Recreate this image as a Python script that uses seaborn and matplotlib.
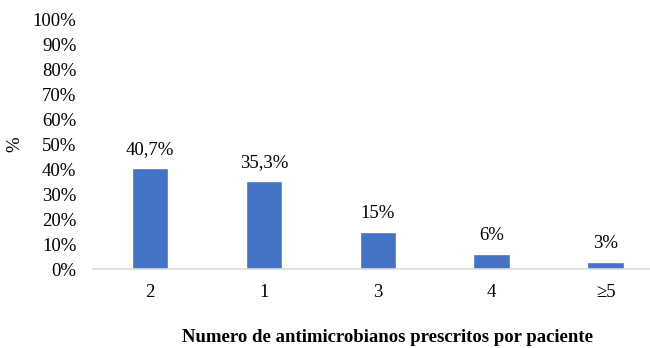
import matplotlib
matplotlib.use("Agg")
import matplotlib.pyplot as plt
import seaborn as sns
import pandas as pd

categorias = ["2", "1", "3", "4", "≥5"]
porcentajes = [40.7, 35.3, 15, 6, 3]
etiquetas = ["40,7%", "35,3%", "15%", "6%", "3%"]
ticks_y = list(range(0, 101, 10))

sns.set_theme(style="white")
plt.rcParams["font.family"] = ["Liberation Serif", "DejaVu Serif"]

df = pd.DataFrame({"categoria": categorias, "porcentaje": porcentajes})

fig = plt.figure(figsize=(6.5, 3.48), dpi=100)
W, H = 650, 348
ax = fig.add_axes([93 / W, (H - 269) / H, (650 - 93) / W, 249 / H])

sns.barplot(data=df, x="categoria", y="porcentaje", color="#4472C4",
            width=0.32, saturation=1, ax=ax)

fs = 13.5
for cont in ax.containers:
    ax.bar_label(cont, labels=etiquetas, padding=7, fontsize=fs, color="#000000")

ax.set_ylim(0, 100)
ax.set_xlim(-0.5, 4.39)
ax.set_yticks(ticks_y)
ax.set_yticklabels([f"{t}%" for t in ticks_y])

for s in ["top", "right", "left"]:
    ax.spines[s].set_visible(False)
ax.spines["bottom"].set_color("#D9D9D9")
ax.spines["bottom"].set_linewidth(1.2)

ax.tick_params(axis="both", length=0, labelsize=fs, colors="#000000")
ax.tick_params(axis="y", pad=12)
ax.tick_params(axis="x", pad=11)

ax.set_ylabel("%", fontsize=fs, color="#000000")
ax.yaxis.set_label_coords((23 - 93) / 557, 0.5)
ax.set_xlabel("Numero de antimicrobianos prescritos por paciente",
              fontsize=fs, fontweight="bold", color="#000000", va="center")
ax.xaxis.set_label_coords((387 - 93) / 557, (269 - 338) / 249)

fig.savefig("out.png", dpi=100)
